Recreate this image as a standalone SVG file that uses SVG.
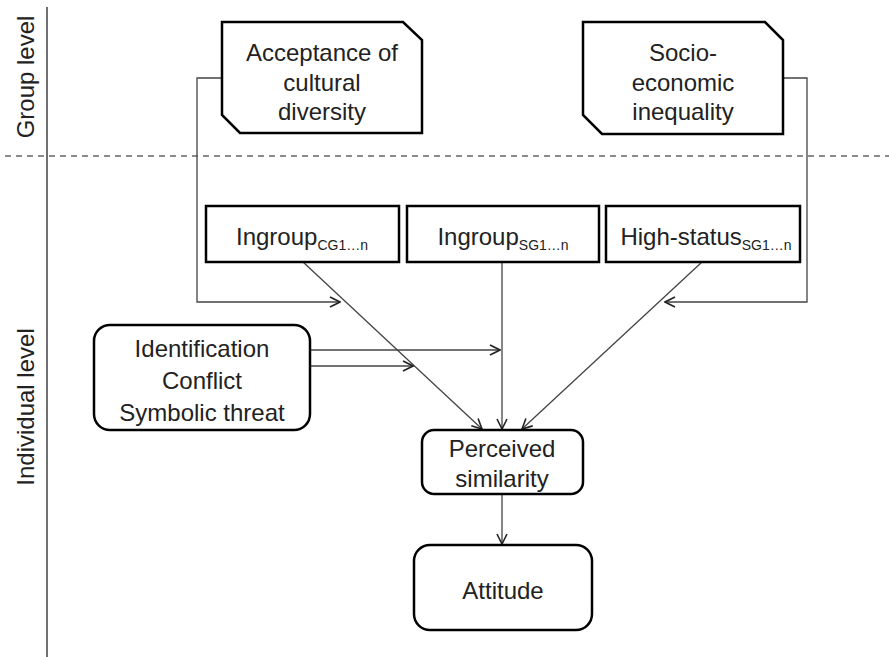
<svg xmlns="http://www.w3.org/2000/svg" width="889" height="657" viewBox="0 0 889 657">
<style>
.box{fill:#fff;stroke:#000;stroke-width:2.5}
.t{font-family:"Liberation Sans",Arial,sans-serif;font-size:24px;fill:#222;text-anchor:middle}
.sub{font-size:14px}
.c{fill:none;stroke:#444;stroke-width:1.3}
.ax{fill:none;stroke:#222;stroke-width:1.3}
</style>
<defs>
<marker id="ah" viewBox="0 0 12 12" refX="11" refY="6" markerWidth="12" markerHeight="12" markerUnits="userSpaceOnUse" orient="auto">
<path d="M1,1 L11,6 L1,11" fill="none" stroke="#222" stroke-width="1.6"/>
</marker>
</defs>
<g id="axes">
<line class="ax" x1="47" y1="7" x2="47" y2="657"/>
<line x1="5" y1="156" x2="889" y2="156" stroke="#666" stroke-width="1.3" stroke-dasharray="6,5"/>
<text class="t" transform="translate(34,77) rotate(-90)">Group level</text>
<text class="t" transform="translate(34,407) rotate(-90)">Individual level</text>
</g>
<g id="connectors">
<polyline class="c" points="222,78 197,78 197,302 340,302" marker-end="url(#ah)"/>
<polyline class="c" points="783,78 807,78 807,302 665,302" marker-end="url(#ah)"/>
<line class="c" x1="303" y1="262" x2="482" y2="429" marker-end="url(#ah)"/>
<line class="c" x1="502" y1="262" x2="502" y2="429" marker-end="url(#ah)"/>
<line class="c" x1="702" y1="262" x2="522" y2="429" marker-end="url(#ah)"/>
<line class="c" x1="310" y1="350" x2="500" y2="350" marker-end="url(#ah)"/>
<line class="c" x1="310" y1="366" x2="413" y2="366" marker-end="url(#ah)"/>
<line class="c" x1="502" y1="494" x2="502" y2="544" marker-end="url(#ah)"/>
</g>
<g id="acceptance">
<path class="box" d="M222,22 L403,22 L422,40 L422,133 L240,133 L222,115 Z"/>
<text class="t" x="322" y="61">Acceptance of</text>
<text class="t" x="322" y="91">cultural</text>
<text class="t" x="322" y="120">diversity</text>
</g>
<g id="socio">
<path class="box" d="M583,22 L765,22 L783,40 L783,134 L602,134 L583,115 Z"/>
<text class="t" x="683" y="61">Socio-</text>
<text class="t" x="683" y="91">economic</text>
<text class="t" x="683" y="120">inequality</text>
</g>
<g id="ingroupCG">
<rect class="box" x="206" y="206" width="193" height="56"/>
<text class="t" x="302" y="245">Ingroup<tspan class="sub" dy="5">CG1…n</tspan></text>
</g>
<g id="ingroupSG">
<rect class="box" x="407" y="206" width="192" height="56"/>
<text class="t" x="503" y="245">Ingroup<tspan class="sub" dy="5">SG1…n</tspan></text>
</g>
<g id="highstatus">
<rect class="box" x="606" y="206" width="194" height="56"/>
<text class="t" x="706" y="245">High-status<tspan class="sub" dy="5">SG1…n</tspan></text>
</g>
<g id="identification">
<rect class="box" x="94" y="325" width="216" height="105" rx="16"/>
<text class="t" x="202" y="357">Identification</text>
<text class="t" x="202" y="389">Conflict</text>
<text class="t" x="202" y="421">Symbolic threat</text>
</g>
<g id="perceived">
<rect class="box" x="422" y="430" width="161" height="64" rx="12"/>
<text class="t" x="502" y="457">Perceived</text>
<text class="t" x="502" y="487">similarity</text>
</g>
<g id="attitude">
<rect class="box" x="414" y="545" width="178" height="85" rx="16"/>
<text class="t" x="503" y="599">Attitude</text>
</g>
</svg>
